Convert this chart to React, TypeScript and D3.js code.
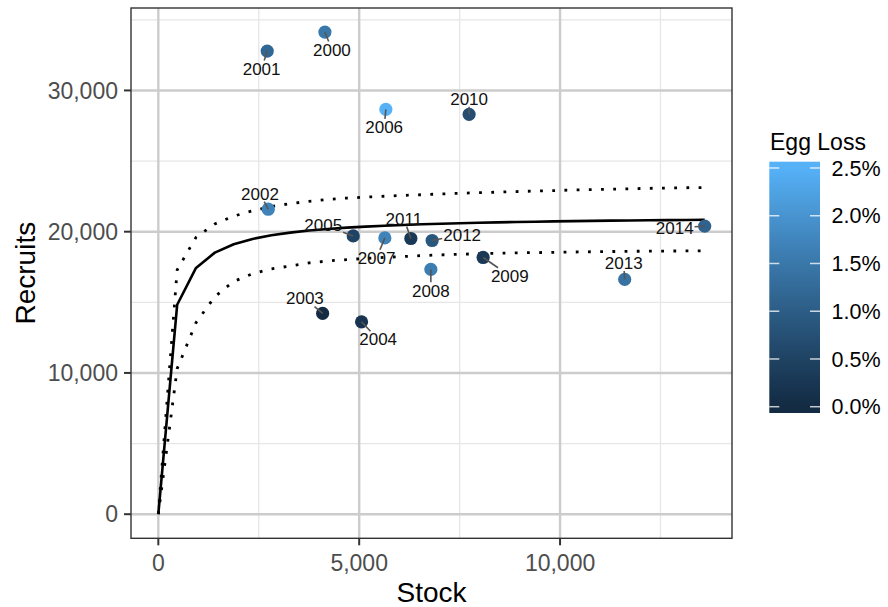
import React from "react";
import * as d3 from "d3";

// Observed stock–recruitment pairs by year
const years = [2000, 2001, 2002, 2003, 2004, 2005, 2006, 2007, 2008, 2009, 2010, 2011, 2012, 2013, 2014];
const stock = [4147, 2711, 2736, 4090, 5059, 4851, 5664, 5639, 6784, 8085, 7736, 6286, 6816, 11609, 13600];
const recruits = [34130, 32786, 21591, 14215, 13621, 19703, 28663, 19562, 17327, 18175, 28310, 19519, 19378, 16620, 20389];
const eggLoss = [1.5, 1.2, 1.7, 0.0, 0.2, 0.5, 2.5, 1.7, 1.6, 0.3, 0.7, 0.3, 0.9, 1.4, 1.1];

// Fitted stock–recruit curve with its lower and upper bounds
const curveStock = [0, 469, 938, 1407, 1876, 2345, 2814, 3283, 3752, 4221, 4690, 5159, 5628, 6097, 6566, 7034, 7503, 7972, 8441, 8910, 9379, 9848, 10317, 10786, 11255, 11724, 12193, 12662, 13131, 13600];
const curveFit = [0, 14827, 17433, 18518, 19112, 19488, 19747, 19936, 20080, 20193, 20285, 20361, 20424, 20478, 20525, 20565, 20601, 20632, 20660, 20686, 20708, 20729, 20748, 20765, 20781, 20795, 20809, 20821, 20833, 20843];
const curveUpper = [0, 17300, 19600, 20550, 21100, 21480, 21780, 21990, 22150, 22280, 22380, 22450, 22510, 22570, 22620, 22670, 22720, 22760, 22800, 22840, 22880, 22910, 22950, 22980, 23010, 23040, 23070, 23090, 23110, 23130];
const curveLower = [0, 10300, 13560, 15400, 16480, 17020, 17370, 17570, 17790, 17930, 18020, 18110, 18180, 18240, 18310, 18360, 18400, 18440, 18470, 18500, 18520, 18540, 18560, 18580, 18595, 18610, 18620, 18630, 18640, 18650];

const xTicks = [0, 5000, 10000];
const xMinor = [2500, 7500, 12500];
const yTicks = [0, 10000, 20000, 30000];
const yMinor = [5000, 15000, 25000, 35000];
const legendTicks = [0, 0.5, 1, 1.5, 2, 2.5];

// Label placement (pixel offsets of each year label from its point)
const labelOffsets: Record<number, [number, number]> = {
  2000: [7, 17.6], 2001: [-5.6, 17.6], 2002: [-8.3, -15.7], 2003: [-17.7, -15],
  2004: [16.6, 17.6], 2005: [-30, -10.7], 2006: [-1.7, 17.7], 2007: [-8.3, 20],
  2008: [0, 21], 2009: [26.7, 18.4], 2010: [0, -15.7], 2011: [-7, -20],
  2012: [30, -6], 2013: [-1, -16.6], 2014: [-30, 1.7],
};

const W = 888, H = 607;
const panel = { left: 131, right: 732, top: 8, bottom: 538.3 };
const FONT = "'Liberation Sans', Arial, Helvetica, sans-serif";

function expand(lo: number, hi: number): [number, number] {
  const pad = (hi - lo) * 0.05;
  return [lo - pad, hi + pad];
}

export default function App() {
  const xMax = Math.max(d3.max(stock)!, d3.max(curveStock)!);
  const yMax = Math.max(d3.max(recruits)!, d3.max(curveUpper)!);
  const x = d3.scaleLinear().domain(expand(0, xMax)).range([panel.left, panel.right]);
  const y = d3.scaleLinear().domain(expand(0, yMax)).range([panel.bottom, panel.top]);

  const eMin = d3.min(eggLoss)!, eMax = d3.max(eggLoss)!;
  const colour = d3.scaleLinear<string>().domain([eMin, eMax]).range(["#132B43", "#56B1F7"]).interpolate(d3.interpolateLab);

  const mkLine = (vals: number[]) =>
    d3.line<number>().x((_, i) => x(curveStock[i])).y((v) => y(v))(vals) || "";

  // colour bar geometry: 20 bins, end values at the centres of the end bins
  const bar = { left: 769.3, right: 820, top: 161.7, bottom: 413 };
  const nbin = 20;
  const binH = (bar.bottom - bar.top) / nbin;
  const lScale = d3.scaleLinear().domain([eMin, eMax]).range([bar.bottom - binH / 2, bar.top + binH / 2]);
  const stops = d3.range(nbin).map((i) => {
    const v = eMin + ((eMax - eMin) * i) / (nbin - 1);
    return { offset: (bar.bottom - lScale(v)) / (bar.bottom - bar.top), color: colour(v) };
  });

  const fmt = d3.format(",");
  const labelFs = 17;

  const points = years.map((yr, i) => {
    const px = x(stock[i]), py = y(recruits[i]);
    const [dx, dy] = labelOffsets[yr];
    const cx = px + dx, cy = py + dy;
    const hw = 1.112 * labelFs + 1, hh = 0.42 * labelFs + 1;
    const vx = px - cx, vy = py - cy;
    const t = Math.min(vx === 0 ? Infinity : hw / Math.abs(vx), vy === 0 ? Infinity : hh / Math.abs(vy));
    const seg = t < 1 ? { x1: cx + t * vx, y1: cy + t * vy, x2: px, y2: py } : null;
    return { yr, px, py, cx, cy, seg, fill: colour(eggLoss[i]) };
  });

  return (
    <svg width={W} height={H} style={{ position: "absolute", left: 0, top: 0, background: "#fff" }} fontFamily={FONT}>
      <defs>
        <linearGradient id="eggBar" x1="0" y1="1" x2="0" y2="0">
          {stops.map((s, i) => (
            <stop key={i} offset={s.offset} stopColor={s.color} />
          ))}
        </linearGradient>
      </defs>
      <rect x={0} y={0} width={W} height={H} fill="#fff" />
      {/* grid */}
      <g>
        {xMinor.map((v) => (
          <line key={"xm" + v} x1={x(v)} x2={x(v)} y1={panel.top} y2={panel.bottom} stroke="#e6e6e6" strokeWidth={1.3} />
        ))}
        {yMinor.map((v) => (
          <line key={"ym" + v} y1={y(v)} y2={y(v)} x1={panel.left} x2={panel.right} stroke="#e6e6e6" strokeWidth={1.3} />
        ))}
        {xTicks.map((v) => (
          <line key={"xM" + v} x1={x(v)} x2={x(v)} y1={panel.top} y2={panel.bottom} stroke="#cccccc" strokeWidth={2.4} />
        ))}
        {yTicks.map((v) => (
          <line key={"yM" + v} y1={y(v)} y2={y(v)} x1={panel.left} x2={panel.right} stroke="#cccccc" strokeWidth={2.4} />
        ))}
      </g>
      {/* curve and bounds */}
      <path d={mkLine(curveUpper)} fill="none" stroke="#000" strokeWidth={2.8} strokeDasharray="2.8 9.4" />
      <path d={mkLine(curveLower)} fill="none" stroke="#000" strokeWidth={2.8} strokeDasharray="2.8 9.4" />
      <path d={mkLine(curveFit)} fill="none" stroke="#000" strokeWidth={2.6} strokeLinejoin="round" />
      {/* points */}
      {points.map((p) => (
        <circle key={"p" + p.yr} cx={p.px} cy={p.py} r={6.6} fill={p.fill} />
      ))}
      {points.map((p) =>
        p.seg ? (
          <line key={"s" + p.yr} x1={p.seg.x1} y1={p.seg.y1} x2={p.seg.x2} y2={p.seg.y2} stroke="#555" strokeWidth={1.6} />
        ) : null
      )}
      {points.map((p) => (
        <text key={"t" + p.yr} x={p.cx} y={p.cy + 0.358 * labelFs} fontSize={labelFs} textAnchor="middle" fill="#111">
          {p.yr}
        </text>
      ))}
      {/* panel border */}
      <rect x={panel.left} y={panel.top} width={panel.right - panel.left} height={panel.bottom - panel.top} fill="none" stroke="#333" strokeWidth={1.4} />
      {/* axes */}
      {xTicks.map((v) => (
        <g key={"xt" + v}>
          <line x1={x(v)} x2={x(v)} y1={panel.bottom} y2={panel.bottom + 7} stroke="#333" strokeWidth={2} />
          <text x={x(v)} y={571} fontSize={23} textAnchor="middle" fill="#4d4d4d">{fmt(v)}</text>
        </g>
      ))}
      {yTicks.map((v) => (
        <g key={"yt" + v}>
          <line x1={panel.left - 7} x2={panel.left} y1={y(v)} y2={y(v)} stroke="#333" strokeWidth={2} />
          <text x={118} y={y(v) + 0.358 * 23} fontSize={23} textAnchor="end" fill="#4d4d4d">{fmt(v)}</text>
        </g>
      ))}
      <text x={(panel.left + panel.right) / 2} y={602} fontSize={28} textAnchor="middle" fill="#000">Stock</text>
      <text transform={`translate(35,${(panel.top + panel.bottom) / 2}) rotate(-90)`} fontSize={28} textAnchor="middle" fill="#000">Recruits</text>
      {/* legend */}
      <text x={770} y={150} fontSize={23} fill="#000">Egg Loss</text>
      <rect x={bar.left} y={bar.top} width={bar.right - bar.left} height={bar.bottom - bar.top} fill="url(#eggBar)" />
      {legendTicks.map((v) => (
        <g key={"lt" + v}>
          <line x1={bar.left} x2={bar.left + 10} y1={lScale(v)} y2={lScale(v)} stroke="#fff" strokeOpacity={0.75} strokeWidth={1.5} />
          <line x1={bar.right - 10} x2={bar.right} y1={lScale(v)} y2={lScale(v)} stroke="#fff" strokeOpacity={0.75} strokeWidth={1.5} />
          <text x={831.5} y={lScale(v) + 0.358 * 21.5} fontSize={21.5} fill="#000">{v.toFixed(1) + "%"}</text>
        </g>
      ))}
    </svg>
  );
}
